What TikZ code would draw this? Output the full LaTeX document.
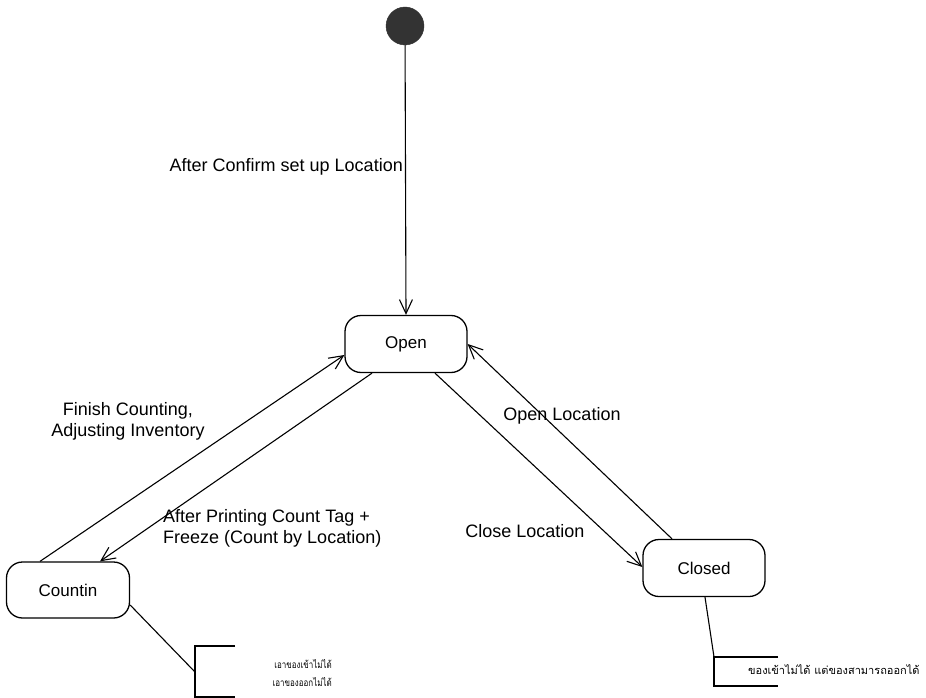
\documentclass[tikz,border=0pt]{standalone}
\usepackage{fontspec}
\usepackage{graphicx}
\setmainfont{Liberation Sans}
\newfontfamily\thaifont[Script=Thai]{Loma}
\usetikzlibrary{arrows.meta}
\begin{document}
\begin{tikzpicture}[x=1pt,y=-1pt,
  state/.style={draw, line width=1.3pt, rounded corners=16pt, minimum width=122pt, minimum height=57pt, font=\fontsize{17}{19}\selectfont, inner sep=0pt},
  trans/.style={line width=1.1pt, -{Straight Barb[length=14pt,width=13pt,line width=1.1pt]}},
  plainline/.style={line width=1.1pt},
  lbl/.style={font=\fontsize{18}{21}\selectfont, inner sep=0pt},
  thai/.style={font=\thaifont\fontsize{10}{20}\selectfont, inner sep=0pt},
  thaibig/.style={font=\thaifont\fontsize{11}{13}\selectfont, inner sep=0pt}]
\fill[white] (0,0) rectangle (926,698);
\useasboundingbox (0,0) rectangle (926,698);

% initial state
\node[circle, fill=black!80, draw=black!80, minimum size=38pt, inner sep=0pt] (init) at (405,26) {};

% states
\node[state] (open) at (406,344) {Open};
\node[state, minimum width=123pt, minimum height=56pt] (countin) at (68,590) {Countin};
\node[state] (closed) at (704,568) {Closed};

% transitions
\draw[trans] (init) -- (open.north);
\draw[trans] ([xshift=-28pt]countin.north) -- ([yshift=-11pt]open.west);
\draw[trans] ([xshift=-34pt]open.south) -- ([xshift=32pt]countin.north);
\draw[trans] ([xshift=29pt]open.south) -- ([yshift=1pt]closed.west);
\draw[trans] ([xshift=-32pt]closed.north) -- (open.east);

% labels
\node[lbl, anchor=east] (l1) at (403,167) {After Confirm set up Location};
\node[lbl, align=center] (l2) at (128,421) {Finish Counting,\\Adjusting Inventory};
\node[lbl, align=left, anchor=west] (l3) at (163,528) {After Printing Count Tag +\\Freeze (Count by Location)};
\node[lbl] (l4) at (562,416) {Open Location};
\node[lbl] (l5) at (525,531) {Close Location};

% notes
\coordinate (nL) at (195,672);
\coordinate (nR) at (714,657);
\draw[plainline] ([yshift=-15pt]countin.east) -- (nL);
\draw[plainline] (235,646) -- (195,646) -- (195,697) -- (235,697);
\node[thai, anchor=east] (t1) at (332,673) {\scalebox{0.8}[1]{\begin{tabular}{@{}r@{}}เอาของเข้าไม่ได้\\[-2pt]เอาของออกไม่ได้\end{tabular}}};

\draw[plainline] ([xshift=1pt]closed.south) -- (nR);
\draw[plainline] (778,657) -- (nR) -- (714,686) -- (778,686);
\node[thaibig, anchor=west] (t2) at (748,670) {ของเข้าไม่ได้ แต่ของสามารถออกได้};
\end{tikzpicture}
\end{document}
